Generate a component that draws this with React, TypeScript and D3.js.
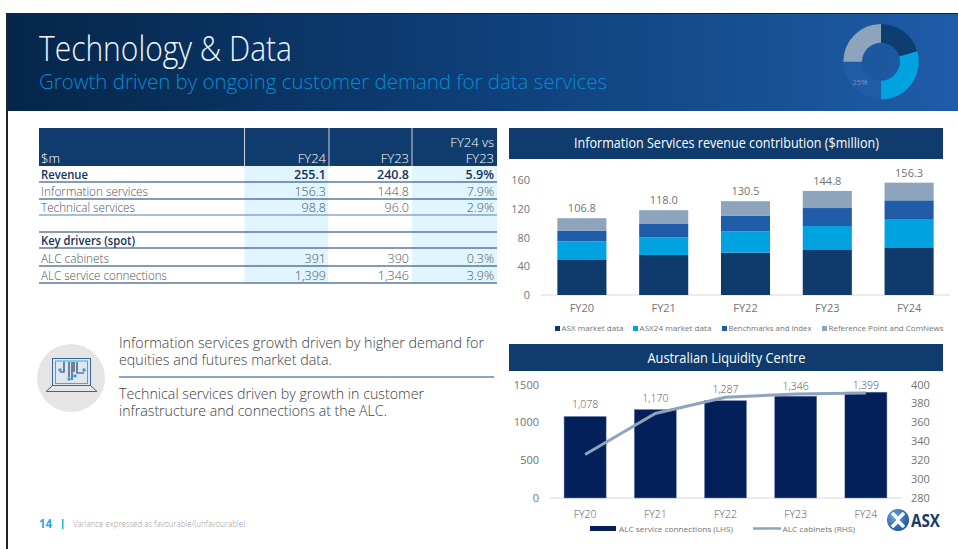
import React from "react";
import * as d3 from "d3";

const years = ["FY20", "FY21", "FY22", "FY23", "FY24"];
const seriesNames = ["ASX market data", "ASX24 market data", "Benchmarks and Index", "Reference Point and ComNews"];
const asxMarket = [49.6, 55.7, 59.0, 62.6, 66.3];
const asx24Market = [25.0, 24.6, 29.7, 33.4, 39.4];
const benchmarks = [15.0, 18.5, 21.3, 25.0, 26.0];
const referencePoint = [17.2, 19.2, 20.5, 23.8, 24.6];
const totals = ["106.8", "118.0", "130.5", "144.8", "156.3"];
const stackColors = ["#0e3a6c", "#00a3e0", "#215ca8", "#8ea3bc"];
const revenueTicks = [0, 40, 80, 120, 160];

const connections = [1078, 1170, 1287, 1346, 1399];
const cabinets = [326, 369.4, 386.6, 390, 391];
const connTicks = [0, 500, 1000, 1500];
const cabTicks = [280, 300, 320, 340, 360, 380, 400];

const tableHead = ["$m", "FY24", "FY23"];
const tableRows = [
  { label: "Revenue", a: "255.1", b: "240.8", c: "5.9%", bold: true },
  { label: "Information services", a: "156.3", b: "144.8", c: "7.9%" },
  { label: "Technical services", a: "98.8", b: "96.0", c: "2.9%" },
  { label: "", a: "", b: "", c: "" },
  { label: "Key drivers (spot)", a: "", b: "", c: "", bold: true },
  { label: "ALC cabinets", a: "391", b: "390", c: "0.3%" },
  { label: "ALC service connections", a: "1,399", b: "1,346", c: "3.9%" },
];
const donutShares = [20.5, 29.5, 25, 25];
const donutColors = ["#0e3d72", "#00a3e0", "#205ba6", "#8ea3bc"];

const FONT = "'Open Sans', sans-serif";
const NAVY = "#0f3b6d";
const GREY = "#737373";

const x1 = d3.scaleBand().domain(years).range([541, 950]).paddingInner(0.4).paddingOuter(0.2);
const y1 = d3.scaleLinear().domain([0, 160]).range([295, 180]);
const stackData = years.map((y, i) => ({
  year: y,
  s0: asxMarket[i],
  s1: asx24Market[i],
  s2: benchmarks[i],
  s3: referencePoint[i],
}));
const stacks = d3.stack<any>().keys(["s0", "s1", "s2", "s3"])(stackData);

const x2 = d3.scaleBand().domain(years).range([550, 901]).paddingInner(0.4).paddingOuter(0.2);
const y2 = d3.scaleLinear().domain([0, 1500]).range([498, 384.5]);
const y2r = d3.scaleLinear().domain([280, 400]).range([498, 384.5]);
const cabLine = d3
  .line<number>()
  .x((_, i) => x2(years[i])! + x2.bandwidth() / 2)
  .y((d) => y2r(d));

const donutArcs = d3.pie<number>().sort(null)(donutShares);
const donutArc = d3.arc<any>().innerRadius(19).outerRadius(37.7);

const colX = [244.5, 329, 412, 497];
const rowBottoms = [182, 199, 215, 232, 248, 266, 283];
const labelWidths = [47, 107, 94, 0, 94, 68, 126];
const connLabelLift = [8, 7.5, 8, 5.7, 3];

function T({ w, children, ...p }: any) {
  const extra = w ? { textLength: w, lengthAdjust: "spacingAndGlyphs" } : {};
  return (
    <text fontFamily={FONT} {...extra} {...p}>
      {children}
    </text>
  );
}

export default function App() {
  return (
    <svg
      width={958}
      height={549}
      style={{ position: "fixed", left: 0, top: 0, display: "block", background: "#fff" }}
    >
      <defs>
        <linearGradient id="hdr" x1="0" x2="1" y1="0" y2="0">
          <stop offset="0" stopColor="#05264a" />
          <stop offset="0.5" stopColor="#0e3f78" />
          <stop offset="1" stopColor="#1f5ca8" />
        </linearGradient>
        <radialGradient id="logo" cx="0.35" cy="0.35" r="0.8">
          <stop offset="0" stopColor="#6fa8dc" />
          <stop offset="1" stopColor="#114a8f" />
        </radialGradient>
      </defs>

      {/* frame and header */}
      <rect x={6} y={13} width={952} height={1.5} fill="#222" />
      <rect x={6} y={13} width={2} height={536} fill="#222" />
      <rect x={8} y={14} width={950} height={97} fill="url(#hdr)" />
      <T x={39} y={61} fontSize={34} fontWeight={300} fill="#f2f5f9" w={253}>Technology &amp; Data</T>
      <T x={39} y={89} fontSize={21} fontWeight={300} fill="#0a8ad0" w={568}>Growth driven by ongoing customer demand for data services</T>

      {/* donut */}
      <g transform="translate(881,61.7)">
        {donutArcs.map((a, i) => (
          <path key={i} d={donutArc(a)!} fill={donutColors[i]} />
        ))}
      </g>
      <T x={860} y={85} fontSize={8} fill="#9fb5d2" textAnchor="middle" fontWeight={300}>25%</T>

      {/* table */}
      <rect x={39} y={128} width={458} height={38} fill={NAVY} />
      {[colX[0], colX[1], colX[2]].map((x) => (
        <rect key={x} x={x - 0.5} y={128} width={1} height={38} fill="#c9d3df" />
      ))}
      <rect x={colX[0]} y={166} width={colX[1] - colX[0] - 1} height={117} fill="#e0f5fd" />
      <rect x={colX[2]} y={166} width={colX[3] - colX[2]} height={117} fill="#e0f5fd" />
      <T x={41} y={163} fontSize={13} fontWeight={300} fill="#fff">{tableHead[0]}</T>
      <T x={326} y={163} fontSize={13} fontWeight={300} fill="#fff" textAnchor="end">{tableHead[1]}</T>
      <T x={409} y={163} fontSize={13} fontWeight={300} fill="#fff" textAnchor="end">{tableHead[2]}</T>
      <T x={494} y={147} fontSize={13} fontWeight={300} fill="#fff" textAnchor="end">FY24 vs</T>
      <T x={494} y={163} fontSize={13} fontWeight={300} fill="#fff" textAnchor="end">FY23</T>
      {tableRows.map((r, i) => {
        const by = rowBottoms[i] - 3.5;
        const col = r.bold ? "#16325c" : "#4a5563";
        const fw = r.bold ? 600 : 300;
        const props = { y: by, fontSize: 12.5, fill: col, fontWeight: fw };
        return (
          <g key={i}>
            <rect x={39} y={rowBottoms[i] - 0.5} width={458} height={1} fill={i === 2 ? "#5c7ea6" : NAVY} />
            {r.label && <T x={41} w={labelWidths[i]} {...props}>{r.label}</T>}
            {r.a && <T x={326} textAnchor="end" {...props}>{r.a}</T>}
            {r.b && <T x={409} textAnchor="end" {...props}>{r.b}</T>}
            {r.c && <T x={494} textAnchor="end" {...props}>{r.c}</T>}
          </g>
        );
      })}

      {/* icon */}
      <circle cx={71} cy={378} r={34} fill="#e5e5e5" />
      <rect x={52.5} y={358.5} width={38} height={27} fill="#dfe6ee" stroke="#3c6796" strokeWidth={1} />
      <rect x={55.5} y={361} width={32} height={22.5} fill="none" stroke="#2fb0e6" strokeWidth={1} />
      <path d="M52 386 L46 391.5 H97 L91 386" fill="none" stroke="#3c6796" strokeWidth={1} />
      <path d="M64 362 V372 H60 M69 362 V377 M74 362 V372 M77 362 V373 H84 M72 362 V380" fill="none" stroke="#1d3f6b" strokeWidth={1.2} />
      <circle cx={60} cy={370} r={1.8} fill="#3a9fd8" />
      <circle cx={84} cy={370} r={1.8} fill="#3a9fd8" />
      <circle cx={69} cy={379} r={1.8} fill="#3a9fd8" />
      <circle cx={75} cy={376} r={1.8} fill="#3a9fd8" />

      {/* body text */}
      <T x={119} y={348} fontSize={14.5} fontWeight={300} fill="#3d3d3d" w={365}>Information services growth driven by higher demand for</T>
      <T x={119} y={365} fontSize={14.5} fontWeight={300} fill="#3d3d3d" w={213}>equities and futures market data.</T>
      <rect x={119} y={376} width={375} height={2} fill="#85a5cd" />
      <T x={119} y={399} fontSize={14.5} fontWeight={300} fill="#3d3d3d" w={305}>Technical services driven by growth in customer</T>
      <T x={119} y={416} fontSize={14.5} fontWeight={300} fill="#3d3d3d" w={268}>infrastructure and connections at the ALC.</T>

      {/* footer */}
      <T x={39} y={528} fontSize={11.5} fontWeight={700} fill="#2aa9e0">14</T>
      <rect x={62} y={519} width={1.5} height={10} fill="#2aa9e0" />
      <T x={73} y={527} fontSize={8.5} fontWeight={300} fill="#999" w={174}>Variance expressed as favourable/(unfavourable).</T>

      {/* chart 1 */}
      <rect x={509} y={128} width={434} height={31} fill={NAVY} />
      <T x={726.5} y={148} fontSize={14} fill="#fff" textAnchor="middle" w={305}>Information Services revenue contribution ($million)</T>
      <line x1={541} x2={950} y1={295} y2={295} stroke="#d9d9d9" />
      {revenueTicks.map((t) => (
        <T key={t} x={530} y={y1(t) + 4} fontSize={11} fill={GREY} textAnchor="end">{t}</T>
      ))}
      {stacks.map((s, i) => (
        <g key={i} fill={stackColors[i]}>
          {s.map((d, j) => (
            <rect
              key={j}
              x={x1(years[j])}
              width={x1.bandwidth()}
              y={y1(d[1])}
              height={y1(d[0]) - y1(d[1])}
            />
          ))}
        </g>
      ))}
      {years.map((y, i) => (
        <g key={y}>
          <T x={x1(y)! + x1.bandwidth() / 2} y={312} fontSize={11} fill={GREY} textAnchor="middle">{y}</T>
          <T
            x={x1(y)! + x1.bandwidth() / 2}
            y={y1(+totals[i]) - 6}
            fontSize={11}
            fill={GREY}
            textAnchor="middle"
          >
            {totals[i]}
          </T>
        </g>
      ))}
      {seriesNames.map((n, i) => {
        const sx = [555, 633, 722, 822][i];
        const ws = [62, 72, 83, 115][i];
        return (
          <g key={n}>
            <rect x={sx} y={326} width={5} height={5} fill={stackColors[i]} />
            <T x={sx + 6.5} y={331} fontSize={8} fill={GREY} w={ws}>{n}</T>
          </g>
        );
      })}

      {/* chart 2 */}
      <rect x={509} y={344} width={434} height={27} fill={NAVY} />
      <T x={726.5} y={362.5} fontSize={14} fill="#fff" textAnchor="middle" w={158}>Australian Liquidity Centre</T>
      <line x1={550} x2={901.5} y1={498} y2={498} stroke="#d9d9d9" />
      {connTicks.map((t) => (
        <T key={t} x={539} y={y2(t) + 4} fontSize={11} fill={GREY} textAnchor="end">{t}</T>
      ))}
      {cabTicks.map((t) => (
        <T key={t} x={911} y={y2r(t) + 4} fontSize={11} fill={GREY}>{t}</T>
      ))}
      {years.map((y, i) => (
        <g key={y}>
          <rect
            x={x2(y)}
            width={x2.bandwidth()}
            y={y2(connections[i])}
            height={y2(0) - y2(connections[i])}
            fill="#03205b"
            stroke="#7d92b2"
            strokeWidth={0.5}
          />
          <T x={x2(y)! + x2.bandwidth() / 2} y={518} fontSize={10.5} fontWeight={300} fill="#555" textAnchor="middle">{y}</T>
          <T
            x={x2(y)! + x2.bandwidth() / 2}
            y={y2(connections[i]) - connLabelLift[i]}
            fontSize={10.5}
            fontWeight={300}
            fill="#555"
            textAnchor="middle"
          >
            {d3.format(",")(connections[i])}
          </T>
        </g>
      ))}
      <path d={cabLine(cabinets)!} fill="none" stroke="#8ea3bc" strokeWidth={3} />
      <rect x={590} y={526} width={26} height={5} fill="#03205b" />
      <T x={619} y={532} fontSize={8} fill={GREY} w={114}>ALC service connections (LHS)</T>
      <line x1={753} x2={781} y1={528.5} y2={528.5} stroke="#8ea3bc" strokeWidth={2.5} />
      <T x={782.5} y={532} fontSize={8} fill={GREY} w={72.5}>ALC cabinets (RHS)</T>

      {/* logo */}
      <circle cx={898} cy={520} r={11} fill="url(#logo)" />
      <path d="M892 513 L898 519 L904 513 M892 527 L898 521 L904 527" fill="none" stroke="#fff" strokeWidth={3.5} />
      <T x={911} y={527} fontSize={18} fontWeight={700} fill={NAVY} w={29}>ASX</T>
    </svg>
  );
}
